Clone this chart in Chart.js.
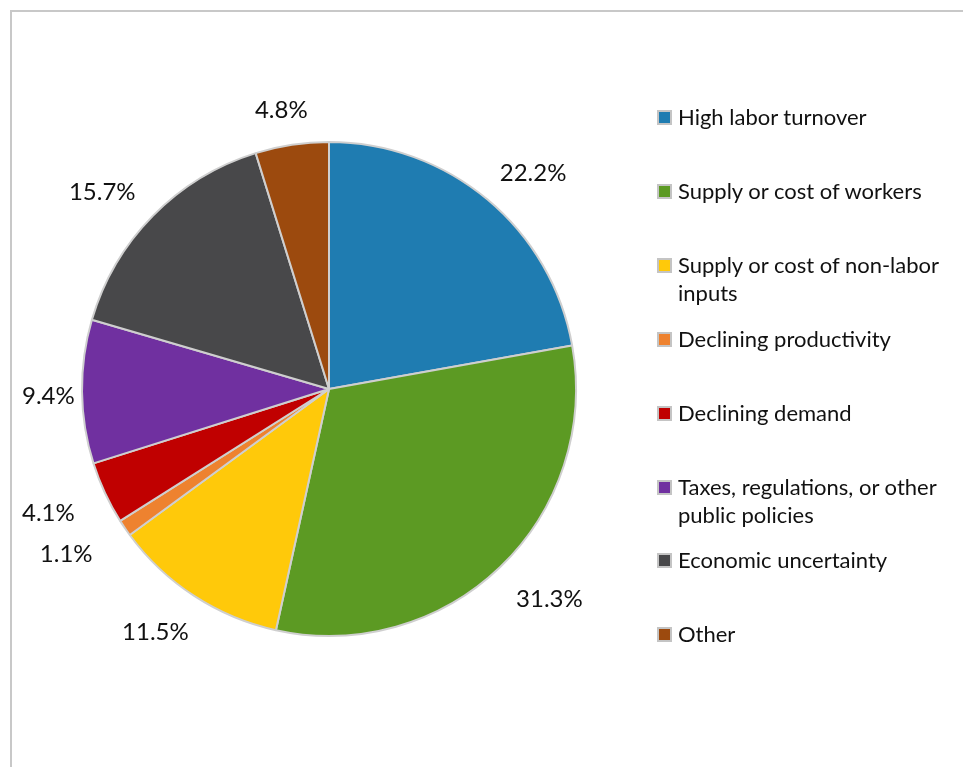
<!DOCTYPE html>
<html>
<head>
<meta charset="utf-8">
<script src="https://cdn.jsdelivr.net/npm/chart.js@4"></script>
<style>
  html, body { margin: 0; padding: 0; background: #fff; }
  #wrap { position: relative; width: 963px; height: 767px; overflow: hidden; }
  #frame {
    position: absolute; left: 10px; top: 10px; right: -10px; bottom: -10px;
    border-top: 2px solid #c8c8c8; border-left: 2px solid #c8c8c8;
  }
  #pie { position: absolute; left: 0; top: 0; }
  #legend { position: absolute; left: 657px; top: 0; font-family: Lato, "Open Sans", sans-serif; font-size: 22px; color: #111; }
  .item { position: absolute; left: 0; width: 300px; display: flex; align-items: flex-start; line-height: 28px; }
  .box { flex: none; width: 11px; height: 11px; border: 2px solid #c4c4c4; margin-top: 7px; margin-right: 6px; }
</style>
</head>
<body>
<div id="wrap">
  <div id="frame"></div>
  <canvas id="pie" width="963" height="767"></canvas>
  <div id="legend"></div>
</div>
<script>
// categorias e valores (%)
const categorias = [
  "High labor turnover",
  "Supply or cost of workers",
  "Supply or cost of non-labor inputs",
  "Declining productivity",
  "Declining demand",
  "Taxes, regulations, or other public policies",
  "Economic uncertainty",
  "Other",
];
const valores = [22.2, 31.3, 11.5, 1.1, 4.1, 9.4, 15.7, 4.8];
const cores = ["#1F7CB1", "#5C9A23", "#FFC90A", "#EE822F", "#C00000", "#7030A0", "#48484A", "#9C4A0E"];

// rótulos de porcentagem fora das fatias (numa elipse em volta da pizza)
const rotulosFora = {
  id: "rotulosFora",
  afterDatasetsDraw(chart) {
    const ctx = chart.ctx;
    const meta = chart.getDatasetMeta(0);
    ctx.save();
    ctx.font = "24px Lato, 'Open Sans', sans-serif";
    ctx.fillStyle = "#111";
    ctx.textAlign = "center";
    ctx.textBaseline = "middle";
    meta.data.forEach((arc, i) => {
      const a = (arc.startAngle + arc.endAngle) / 2;
      const txt = valores[i].toFixed(1) + "%";
      const w = ctx.measureText(txt).width;
      const rx = arc.outerRadius + 71;
      const ry = arc.outerRadius + 39;
      let x = arc.x + Math.cos(a) * rx;
      const y = arc.y + Math.sin(a) * ry + 4;
      // não deixa o texto sair da moldura
      x = Math.max(x, 22 + w / 2);
      ctx.fillText(txt, x, y);
    });
    ctx.restore();
  },
};

const ctx = document.getElementById("pie").getContext("2d");
new Chart(ctx, {
  type: "pie",
  data: {
    labels: categorias,
    datasets: [
      {
        data: valores,
        backgroundColor: cores,
        borderColor: "#cfcfcf",
        borderWidth: 2,
      },
    ],
  },
  options: {
    responsive: false,
    animation: false,
    layout: { padding: { left: 81, right: 386, top: 141, bottom: 130 } },
    plugins: {
      legend: { display: false },
      tooltip: { enabled: false },
    },
  },
  plugins: [rotulosFora],
});

// legenda à direita
const legenda = document.getElementById("legend");
categorias.forEach((nome, i) => {
  const item = document.createElement("div");
  item.className = "item";
  item.style.top = (103 + 73.9 * i) + "px";
  const box = document.createElement("span");
  box.className = "box";
  box.style.background = cores[i];
  const txt = document.createElement("span");
  txt.textContent = nome;
  item.appendChild(box);
  item.appendChild(txt);
  legenda.appendChild(item);
});
</script>
</body>
</html>
